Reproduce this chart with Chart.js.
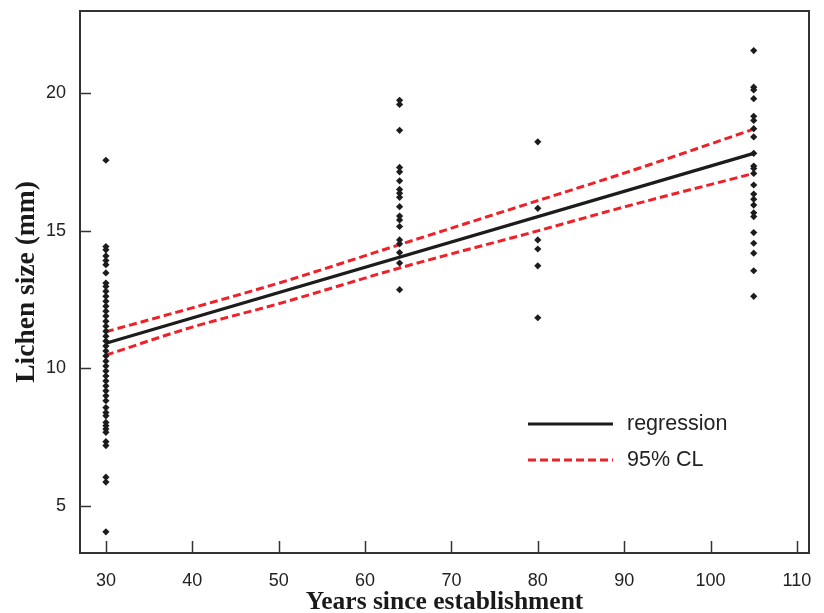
<!DOCTYPE html>
<html>
<head>
<meta charset="utf-8">
<script src="https://cdn.jsdelivr.net/npm/chart.js@4.4.1/dist/chart.umd.min.js"></script>
<style>
  html, body { margin: 0; padding: 0; background: #fff; }
  #wrap { width: 824px; height: 613px; }
</style>
</head>
<body>
<div id="wrap"><canvas id="chart" width="824" height="613"></canvas></div>
<script>
// lichen sizes (mm) measured at each site age
const sizes30 = [17.57, 14.43, 14.31, 14.09, 13.92, 13.77, 13.47, 13.10, 12.98, 12.80, 12.62, 12.44,
    12.26, 12.08, 11.90, 11.71, 11.53, 11.35, 11.17, 10.99, 10.81, 10.63, 10.45, 10.26, 10.08,
    9.90, 9.72, 9.54, 9.36, 9.18, 9.00, 8.82, 8.57, 8.39, 8.27, 8.03, 7.91, 7.79, 7.67, 7.33,
    7.19, 6.04, 5.86, 4.05];
const sizes64 = [19.75, 19.6, 18.66, 17.31, 17.15, 16.82, 16.51, 16.37, 16.22, 15.88, 15.54,
    15.40, 15.16, 14.67, 14.53, 14.21, 13.83, 12.86];
const sizes80 = [18.24, 15.82, 14.67, 14.34, 13.73, 11.84];
const sizes105 = [21.56, 20.23, 20.13, 19.81, 19.17, 19.02, 18.72, 18.42, 17.82, 17.36, 17.27,
    17.09, 16.67, 16.34, 16.15, 15.94, 15.66, 15.52, 14.94, 14.55, 14.19, 13.55, 12.62];

// regression line and 95% confidence limits
const regX = [30, 105];
const regY = [10.91, 17.82];
const clX = [30, 40, 50, 64, 80, 90, 105];
const clUpper = [11.33, 12.2, 13.1, 14.5, 16.1, 17.1, 18.7];
const clLower = [10.48, 11.5, 12.35, 13.65, 15.0, 15.87, 17.09];

const xTicks = [30, 40, 50, 60, 70, 80, 90, 100, 110];
const yTicks = [5, 10, 15, 20];

const RED = '#ee2028';
const INK = '#1c1c1c';
const SANS = '"Liberation Sans", Arial, Helvetica, sans-serif';
const SERIF = '"Liberation Serif", "Times New Roman", serif';

const pts = [];
[[30, sizes30], [64, sizes64], [80, sizes80], [105, sizes105]].forEach(([age, arr]) => {
    arr.forEach(v => pts.push({ x: age, y: v }));
});
const toXY = (xs, ys) => xs.map((x, i) => ({ x, y: ys[i] }));

// no extra room for overhanging tick labels
const noPad = s => { s.paddingTop = 0; s.paddingBottom = 0; s.paddingLeft = 0; s.paddingRight = 0; };

// ticks pointing into the plot + frame
const frame = {
    id: 'frame',
    afterDatasetsDraw(chart) {
        const { ctx, chartArea: a, scales } = chart;
        ctx.save();
        ctx.strokeStyle = '#333';
        ctx.lineWidth = 1.5;
        xTicks.forEach(v => {
            const px = Math.round(scales.x.getPixelForValue(v)) + 0.5;
            ctx.beginPath(); ctx.moveTo(px, a.bottom); ctx.lineTo(px, a.bottom - 12); ctx.stroke();
        });
        yTicks.forEach(v => {
            const py = Math.round(scales.y.getPixelForValue(v)) + 0.5;
            ctx.beginPath(); ctx.moveTo(a.left, py); ctx.lineTo(a.left + 11, py); ctx.stroke();
        });
        ctx.lineWidth = 2;
        ctx.strokeRect(a.left, a.top, a.right - a.left, a.bottom - a.top);
        ctx.restore();
    }
};

// legend inside the plot area
const legendBox = {
    id: 'legendBox',
    afterDraw(chart) {
        const { ctx } = chart;
        const items = [chart.data.datasets[1], chart.data.datasets[2]];
        ctx.save();
        items.forEach((ds, i) => {
            const y = 424 + i * 36;
            ctx.strokeStyle = ds.borderColor;
            ctx.lineWidth = ds.borderWidth;
            ctx.setLineDash(ds.borderDash || []);
            ctx.beginPath(); ctx.moveTo(528, y); ctx.lineTo(613, y); ctx.stroke();
            ctx.setLineDash([]);
            ctx.fillStyle = '#222';
            ctx.font = '21.5px ' + SANS;
            ctx.textBaseline = 'middle';
            ctx.fillText(ds.label, 627, y);
        });
        ctx.restore();
    }
};

new Chart(document.getElementById('chart'), {
    type: 'scatter',
    data: {
        datasets: [
            {
                label: 'observed',
                data: pts,
                pointStyle: 'rectRot',
                pointRadius: 3.6,
                backgroundColor: INK,
                borderColor: INK,
                borderWidth: 0
            },
            {
                label: 'regression',
                data: toXY(regX, regY),
                showLine: true,
                borderColor: INK,
                borderWidth: 3.2,
                pointRadius: 0
            },
            {
                label: '95% CL',
                data: toXY(clX, clUpper),
                showLine: true,
                borderColor: RED,
                borderWidth: 3,
                borderDash: [8, 4],
                cubicInterpolationMode: 'monotone',
                pointRadius: 0
            },
            {
                label: '95% CL lower',
                data: toXY(clX, clLower),
                showLine: true,
                borderColor: RED,
                borderWidth: 3,
                borderDash: [8, 4],
                cubicInterpolationMode: 'monotone',
                pointRadius: 0
            }
        ]
    },
    options: {
        responsive: false,
        animation: false,
        layout: { padding: { top: 11, right: 15, left: 0, bottom: 0 } },
        plugins: { legend: { display: false }, tooltip: { enabled: false } },
        scales: {
            x: {
                type: 'linear',
                min: 27,
                max: 111.4,
                afterBuildTicks: s => { s.ticks = xTicks.map(v => ({ value: v })); },
                afterFit: s => { s.height = 60; noPad(s); },
                grid: { display: false, drawTicks: false },
                border: { display: false },
                ticks: { color: '#222', padding: 17, font: { family: SANS, size: 18 }, maxRotation: 0 },
                title: {
                    display: true,
                    text: 'Years since establishment',
                    color: '#1a1a1a',
                    padding: 0,
                    font: { family: SERIF, size: 25.5, weight: 'bold', lineHeight: 0.85 }
                }
            },
            y: {
                min: 3.28,
                max: 23,
                afterBuildTicks: s => { s.ticks = yTicks.map(v => ({ value: v })); },
                afterFit: s => { s.width = 80; noPad(s); },
                grid: { display: false, drawTicks: false },
                border: { display: false },
                ticks: { color: '#222', padding: 14, font: { family: SANS, size: 18 } },
                title: {
                    display: true,
                    text: 'Lichen size (mm)',
                    color: '#1a1a1a',
                    padding: { top: 13, bottom: 0 },
                    font: { family: SERIF, size: 27.5, weight: 'bold', lineHeight: 1 }
                }
            }
        }
    },
    plugins: [frame, legendBox]
});
</script>
</body>
</html>
